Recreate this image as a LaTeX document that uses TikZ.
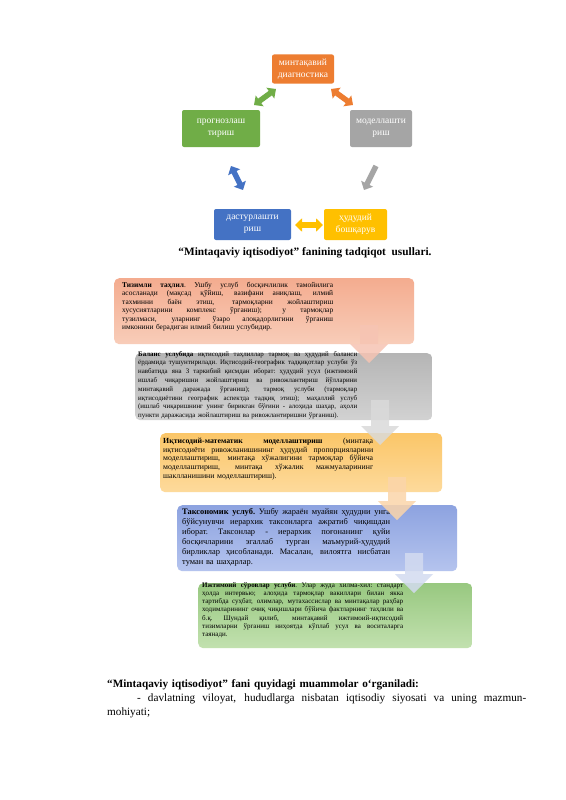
\documentclass[tikz,border=0pt]{standalone}
\usepackage{fontspec}
\setmainfont{Liberation Serif}
\usetikzlibrary{arrows.meta}
\newcommand{\jl}[2]{\leavevmode\hbox to #1{\spaceskip=0.25em plus 1fil minus 0.05em\relax\xspaceskip=\spaceskip #2}}
\newcommand{\dnarrow}[5]{% colour, centre x, top y, tip y, name
  \fill[#1, opacity=0.85] (#2-9,#3) -- (#2+9,#3) -- (#2+9,#4-19) -- (#2+19,#4-19) -- (#2,#4) -- (#2-19,#4-19) -- (#2-9,#4-19) -- cycle;
  \coordinate (#5) at (#2,#4);}
\definecolor{corange}{HTML}{ED7D31}
\definecolor{cgreen}{HTML}{70AD47}
\definecolor{cgray}{HTML}{A5A5A5}
\definecolor{cblue}{HTML}{4472C4}
\definecolor{cyellow}{HTML}{FFC000}
\definecolor{s1a}{HTML}{F4AC8F}\definecolor{s1b}{HTML}{F8CDB9}
\definecolor{s2a}{HTML}{B5B5B5}\definecolor{s2b}{HTML}{D2D2D2}
\definecolor{s3a}{HTML}{FBC668}\definecolor{s3b}{HTML}{FDDA9C}
\definecolor{s4a}{HTML}{8DA3E0}\definecolor{s4b}{HTML}{B5C4EE}
\definecolor{s5a}{HTML}{98C880}\definecolor{s5b}{HTML}{C2E1AF}
\definecolor{a1}{HTML}{F6C4B3}\definecolor{a2}{HTML}{DADADA}
\definecolor{a3}{HTML}{FBD5AA}\definecolor{a4}{HTML}{D3DBF0}
\tikzset{
  cyc/.style={rounded corners=2pt, text=white, align=center, inner sep=0pt,
    font=\fontsize{9.5}{11.5}\selectfont},
  cyca/.style={line width=5.5pt, {Triangle[width=13pt,length=7pt]}-{Triangle[width=13pt,length=7pt]}},
  cycs/.style={line width=5.5pt, -{Triangle[width=13pt,length=7pt]}},
  stepbox/.style={rounded corners=5pt, inner sep=0pt, anchor=north west},
  bt/.style={anchor=north west, inner sep=0pt, align=left, text=black},
}
\begin{document}
\begin{tikzpicture}[x=1pt,y=-1pt]
\useasboundingbox[fill=white] (0,0) rectangle (565,800);

% ---- cycle diagram ----
\node[cyc, fill=corange, minimum width=62pt, minimum height=29pt] (diag) at (303,69) {минтақавий\\диагностика};
\node[cyc, fill=cgreen, minimum width=78pt, minimum height=37pt] (prog) at (221,128.5) {прогнозлаш\\тириш};
\node[cyc, fill=cgray, minimum width=62pt, minimum height=37pt] (model) at (381,128.5) {моделлашти\\риш};
\node[cyc, fill=cblue, minimum width=77pt, minimum height=31pt] (dast) at (252.5,224.5) {дастурлашти\\риш};
\node[cyc, fill=cyellow, minimum width=63pt, minimum height=31pt] (hud) at (355.5,224.5) {ҳудудий\\бошқарув};

\coordinate (ga) at (254,105); \coordinate (gb) at (276,89);
\coordinate (oa) at (331,89); \coordinate (ob) at (353,105);
\coordinate (ra) at (376,166); \coordinate (rb) at (364,190);
\coordinate (ya) at (323,225); \coordinate (yb) at (295,225);
\coordinate (ba) at (231,166); \coordinate (bb) at (243,190);
\draw[cyca, cgreen] (ga) -- (gb);
\draw[cyca, corange] (oa) -- (ob);
\draw[cycs, cgray] (ra) -- (rb);
\draw[cyca, cyellow] (ya) -- (yb);
\draw[cyca, cblue] (ba) -- (bb);

\node[font=\fontsize{11.3}{13}\selectfont\bfseries, inner sep=0pt] (cap) at (305,253)
  {“Mintaqaviy iqtisodiyot” fanining tadqiqot \ usullari.};

% ---- step boxes ----
\node[stepbox, top color=s1a, bottom color=s1b, minimum width=300pt, minimum height=66pt] (b1) at (114,278) {};
\node[stepbox, top color=s2a, bottom color=s2b, minimum width=297pt, minimum height=67pt] (b2) at (135,353) {};
\node[stepbox, top color=s3a, bottom color=s3b, minimum width=282pt, minimum height=59pt] (b3) at (160,433) {};
\node[stepbox, top color=s4a, bottom color=s4b, minimum width=280pt, minimum height=66pt] (b4) at (177,505) {};
\node[stepbox, top color=s5a, bottom color=s5b, minimum width=274pt, minimum height=65pt] (b5) at (198,583) {};

\node[bt, text width=211pt, font=\fontsize{7.4}{8.4}\selectfont] (t1) at (122,282) {%
\jl{211pt}{\textbf{Тизимли таҳлил}. Ушбу услуб босқичлилик тамойилига}\\
\jl{211pt}{асосланади (мақсад қўйиш, вазифани аниқлаш, илмий}\\
\jl{211pt}{тахминни баён этиш, тармоқларни жойлаштириш}\\
\jl{211pt}{хусусиятларини комплекс ўрганиш); у тармоқлар}\\
\jl{211pt}{тузилмаси, уларнинг ўзаро алоқадорлигини ўрганиш}\\
имконини берадиган илмий билиш услубидир.};

\node[bt, text width=219pt, font=\fontsize{6.9}{8.8}\selectfont] (t2) at (138,351) {%
\jl{219pt}{\textbf{Баланс услубида} иқтисодий таҳлиллар тармоқ ва ҳудудий баланси}\\
\jl{219pt}{ёрдамида тушунтирилади. Иқтисодий-географик тадқиқотлар услуби ўз}\\
\jl{219pt}{навбатида яна 3 таркибий қисмдан иборат: ҳудудий усул (ижтимоий}\\
\jl{219pt}{ишлаб чиқаришни жойлаштириш ва ривожлантириш йўлларини}\\
\jl{219pt}{минтақавий даражада ўрганиш); тармоқ услуби (тармоқлар}\\
\jl{219pt}{иқтисодиётини географик аспектда тадқиқ этиш); маҳаллий услуб}\\
\jl{219pt}{(ишлаб чиқаришнинг унинг бирикган бўғини - алоҳида шаҳар, аҳоли}\\
пункти даражасида жойлаштириш ва ривожлантиришни ўрганиш).};

\node[bt, text width=210pt, font=\fontsize{7.8}{8.6}\selectfont] (t3) at (163,438) {%
\jl{210pt}{\textbf{Иқтисодий-математик моделлаштириш} (минтақа}\\
\jl{210pt}{иқтисодиёти ривожланишининг ҳудудий пропорцияларини}\\
\jl{210pt}{моделлаштириш, минтақа хўжалигини тармоқлар бўйича}\\
\jl{210pt}{моделлаштириш, минтақа хўжалик мажмуаларининг}\\
шаклланишини моделлаштириш).};

\node[bt, text width=208pt, font=\fontsize{8.4}{10}\selectfont] (t4) at (182,508) {%
\jl{208pt}{\textbf{Таксономик услуб.} Ушбу жараён муайян ҳудудни унга}\\
\jl{208pt}{бўйсунувчи иерархик таксонларга ажратиб чиқишдан}\\
\jl{208pt}{иборат. Таксонлар - иерархик поғонанинг қуйи}\\
\jl{208pt}{босқичларини эгаллаб турган маъмурий-ҳудудий}\\
\jl{208pt}{бирликлар ҳисобланади. Масалан, вилоятга нисбатан}\\
туман ва шаҳарлар.};

\node[bt, text width=201pt, font=\fontsize{7}{8.2}\selectfont] (t5) at (202,582) {%
\jl{201pt}{\textbf{Ижтимоий сўровлар услуби}. Улар жуда хилма-хил: стандарт}\\
\jl{201pt}{ҳолда интервью; алоҳида тармоқлар вакиллари билан якка}\\
\jl{201pt}{тартибда суҳбат, олимлар, мутахассислар ва минтақалар раҳбар}\\
\jl{201pt}{ходимларининг очиқ чиқишлари бўйича фактларнинг таҳлили ва}\\
\jl{201pt}{б.қ. Шундай қилиб, минтақавий ижтимоий-иқтисодий}\\
\jl{201pt}{тизимларни ўрганиш ниҳоятда кўплаб усул ва воситаларга}\\
таянади.};

% ---- down arrows (over the boxes) ----
\dnarrow{a1}{369}{325}{363}{d1}
\dnarrow{a2}{380}{400}{445}{d2}
\dnarrow{a3}{397}{477}{520}{d3}
\dnarrow{a4}{414}{553}{593}{d4}

% ---- bottom text ----
\node[bt, text width=419pt, font=\fontsize{11.2}{14}\selectfont] (body) at (107,679) {%
\textbf{“Mintaqaviy iqtisodiyot” fani quyidagi muammolar o‘rganiladi:}\\
\jl{419pt}{\hspace*{30pt}- davlatning viloyat, hududlarga nisbatan iqtisodiy siyosati va uning mazmun-}\\
mohiyati;};
\end{tikzpicture}
\end{document}
